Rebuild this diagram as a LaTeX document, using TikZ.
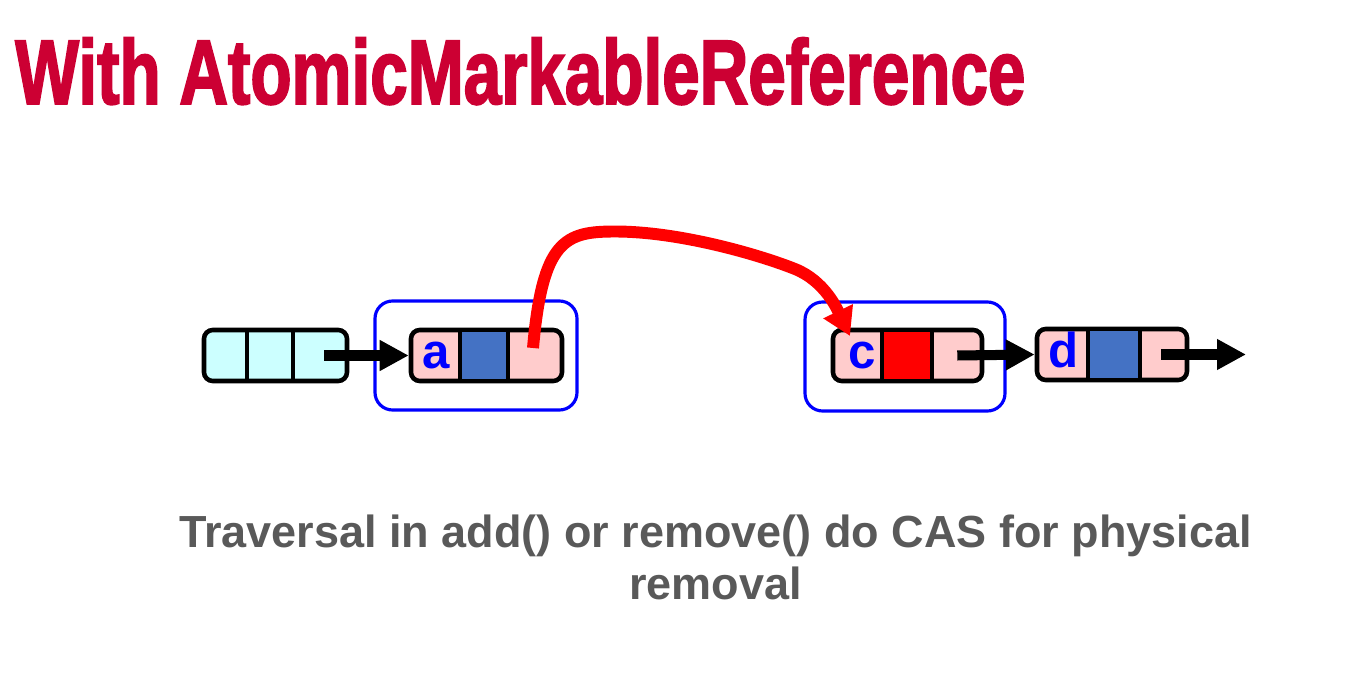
\documentclass[tikz,border=0pt]{standalone}
\usepackage{fontspec}
\setmainfont{Liberation Sans}
\newfontfamily\titlefont{Liberation Sans}[BoldFeatures={FakeBold=2.5}]
\usepackage{graphicx}
\usetikzlibrary{arrows.meta}
\definecolor{titlered}{HTML}{CC0033}
\definecolor{framec}{HTML}{0000FF}
\definecolor{pinkc}{HTML}{FFCCCC}
\definecolor{cyanc}{HTML}{CCFFFF}
\definecolor{bluec}{HTML}{4472C4}
\definecolor{textgray}{HTML}{595959}
\begin{document}
\begin{tikzpicture}[
  rec/.style={draw, line width=2.6pt, rounded corners=5pt, inner sep=0pt, minimum height=1.02cm},
  frame/.style={draw=framec, line width=1.8pt, rounded corners=10pt, inner sep=0pt},
  link/.style={line width=5.7pt, -{Triangle[length=0.58cm,width=0.58cm]}},
  cas/.style={red, line width=6.8pt, -{Triangle[length=0.55cm,width=0.62cm]}},
  lbl/.style={anchor=base, inner sep=0pt, text=framec, font=\bfseries\fontsize{28}{28}\selectfont}
]
\useasboundingbox (0,0) rectangle (27.24,13.5);
\node[anchor=south west, inner sep=0pt, text=titlered] (title) at (0.3,11.4)
  {\resizebox{20.2cm}{1.32cm}{\titlefont\bfseries With AtomicMarkableReference}};
% blue frames
\node[frame, minimum width=4.04cm, minimum height=2.18cm] (aframe) at (9.52,6.39) {};
\node[frame, minimum width=4.0cm, minimum height=2.18cm] (cframe) at (18.10,6.37) {};
% head
\node[rec, fill=cyanc, minimum width=2.86cm] (head) at (5.51,6.39) {};
\draw[line width=2.6pt] (4.94,5.88) -- (4.94,6.90) (5.86,5.88) -- (5.86,6.90);
% a
\node[rec, fill=pinkc, minimum width=3.02cm] (a) at (9.73,6.39) {};
\fill[bluec] (9.20,5.93) rectangle (10.16,6.85);
\draw[line width=2.6pt] (9.20,5.88) -- (9.20,6.90) (10.16,5.88) -- (10.16,6.90);
\node[lbl] (alab) at (8.72,6.14) {a};
% c
\node[rec, fill=pinkc, minimum width=2.98cm] (c) at (18.15,6.39) {};
\fill[red] (17.64,5.93) rectangle (18.64,6.85);
\draw[line width=2.6pt] (17.64,5.88) -- (17.64,6.90) (18.64,5.88) -- (18.64,6.90);
\node[lbl] (clab) at (17.24,6.14) {c};
% d
\node[rec, fill=pinkc, minimum width=3.0cm] (d) at (22.24,6.41) {};
\fill[bluec] (21.76,5.95) rectangle (22.80,6.87);
\draw[line width=2.6pt] (21.76,5.88) -- (21.76,6.92) (22.80,5.88) -- (22.80,6.92);
\node[lbl] (dlab) at (21.27,6.16) {d};
% links
\coordinate (dnext) at (24.92,6.41);
\draw[link] ([xshift=-0.5cm]head.east) -- (a.west);
\draw[link] ([xshift=-0.54cm]c.east) -- (d.west);
\draw[link] ([xshift=-0.56cm]d.east) -- (dnext);
% physical removal
\coordinate (anext) at (10.66,6.54);
\coordinate (cin) at (17.0,6.78);
\draw[cas] (anext) .. controls (10.85,8.7) and (11.3,8.87) .. (12.3,8.87)
  .. controls (13.6,8.87) and (15.2,8.4) .. (15.9,8.12)
  .. controls (16.5,7.88) and (16.75,7.3) .. (cin);
\node[text=textgray, align=center, font=\bfseries\fontsize{25.6}{29.6}\selectfont] (caption) at (14.31,2.35)
  {Traversal in add() or remove() do CAS for physical\\removal};
\end{tikzpicture}
\end{document}
